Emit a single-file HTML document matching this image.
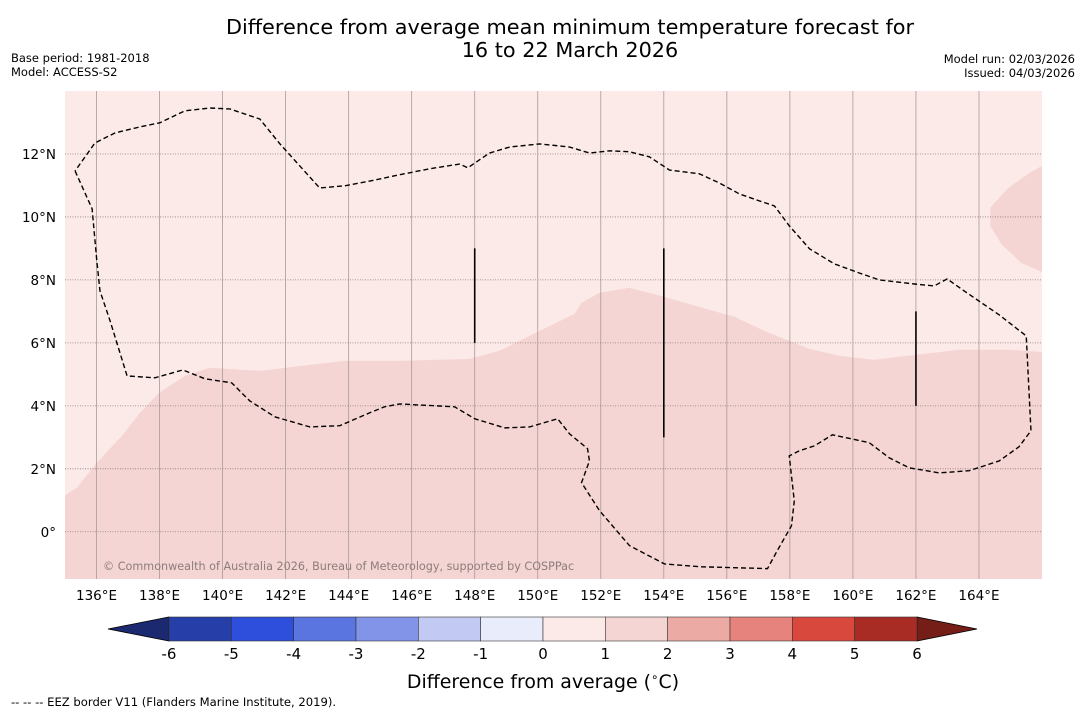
<!DOCTYPE html>
<html><head><meta charset="utf-8"><style>
body{margin:0;background:#fff;}
svg{display:block;font-family:"DejaVu Sans","Liberation Sans",sans-serif;}
</style></head><body>
<svg id="chart" width="1085" height="713" viewBox="0 0 1085 713">
<text x="570" y="34" font-size="20.8" text-anchor="middle">Difference from average mean minimum temperature forecast for</text>
<text x="570" y="57" font-size="20.8" text-anchor="middle">16 to 22 March 2026</text>
<text x="11" y="62" font-size="11.5">Base period: 1981-2018</text>
<text x="11" y="76" font-size="11.5">Model: ACCESS-S2</text>
<text x="1075" y="63" font-size="11.5" text-anchor="end">Model run: 02/03/2026</text>
<text x="1075" y="77" font-size="11.5" text-anchor="end">Issued: 04/03/2026</text>
<g id="map"></g>
<g id="cbar"></g>
<text x="543" y="688" font-size="18.9" text-anchor="middle">Difference from average (<tspan font-size="12" dy="-7">∘</tspan><tspan dy="7">C)</tspan></text>
<text x="11" y="706" font-size="11.6">--  --  -- EEZ border V11 (Flanders Marine Institute, 2019).</text>
</svg>
<script>
const NS="http://www.w3.org/2000/svg";
const lonTicks=[136,138,140,142,144,146,148,150,152,154,156,158,160,162,164];
const latTicks=[0,2,4,6,8,10,12];
const warmLon=[135,135.38,135.98,136.81,137.38,137.98,138.8,139.6,141.18,142.77,143.88,145.62,147.84,148.79,150.06,151.17,151.39,151.96,152.91,154.02,155.13,156.24,157.19,158.62,159.57,160.68,161.47,163.38,164.96,166];
const warmLat=[1.17,1.4,2.16,3.05,3.78,4.41,4.95,5.21,5.11,5.3,5.43,5.43,5.49,5.75,6.38,6.92,7.27,7.59,7.75,7.46,7.14,6.83,6.38,5.81,5.59,5.46,5.56,5.78,5.78,5.71];
const blobLon=[166,165.6,164.9,164.36,164.36,164.71,165.34,166];
const blobLat=[11.62,11.4,10.89,10.29,9.71,9.14,8.54,8.25];
const cLon=[135.32,135.86,136.01,136.11,136.43,136.97,137.85,138.74,139.44,140.29,140.86,141.66,142.77,143.72,144.67,145.14,145.62,147.36,148.0,148.95,149.74,150.63,151.01,151.58,151.64,151.39,151.96,152.91,154.02,155.13,157.29,157.6,158.05,158.14,157.98,158.3,158.78,159.35,160.52,161.15,161.79,162.74,163.69,164.64,165.27,165.65,165.5,164.64,163.53,162.99,162.58,161.95,160.84,160.2,159.41,158.62,157.98,157.51,157.03,156.4,155.76,155.13,154.18,153.54,152.91,152.28,151.64,151.01,150.06,149.11,148.47,147.78,147.52,146.57,145.62,144.67,143.88,143.08,142.45,141.82,141.18,140.23,139.6,138.8,138.01,137.38,136.59,135.95,135.32];
const cLat=[11.46,10.26,8.6,7.65,6.7,4.95,4.89,5.14,4.86,4.73,4.16,3.65,3.33,3.37,3.78,3.97,4.06,3.97,3.59,3.3,3.33,3.59,3.11,2.64,2.25,1.56,0.67,-0.44,-1.02,-1.11,-1.17,-0.6,0.19,0.98,2.41,2.57,2.73,3.08,2.83,2.35,2.03,1.87,1.94,2.25,2.7,3.21,6.22,6.89,7.65,8.03,7.81,7.87,8.0,8.22,8.51,8.99,9.72,10.35,10.51,10.73,11.08,11.37,11.49,11.91,12.07,12.1,12.03,12.22,12.32,12.22,12.03,11.56,11.68,11.53,11.34,11.14,10.99,10.92,11.62,12.32,13.11,13.43,13.46,13.37,12.99,12.86,12.67,12.35,11.46];
const eezLon=[148,154,162];
const eezLat0=[9,9,7];
const eezLat1=[6,3,4];
const cbVals=[-6,-5,-4,-3,-2,-1,0,1,2,3,4,5,6];
const cbColors=["#263fa8","#2e4fdc","#5a74e0","#8194e8","#c2c9f2","#e9ecfa","#fceae8","#f5d5d3","#ecaaa5","#e5837c","#d9483d","#a82b24"];
const LON0=135,LON1=166,LAT0=-1.5,LAT1=14;
const X0=65,X1=1042,Y0=91,Y1=579;
const px=l=>X0+(l-LON0)/(LON1-LON0)*(X1-X0);
const py=l=>Y1-(l-LAT0)/(LAT1-LAT0)*(Y1-Y0);
function mk(t,a,p){const e=document.createElementNS(NS,t);for(const k in a)e.setAttribute(k,a[k]);(p||map).appendChild(e);return e;}
const map=document.getElementById('map');
let e=mk('rect',{x:X0,y:Y0,width:X1-X0,height:Y1-Y0,fill:'#fbeae8'});


let d='M'+warmLon.map((l,i)=>px(l)+','+py(warmLat[i])).join(' L')+` L${X1},${Y1} L${X0},${Y1} Z`;
e=mk('path',{d:d,fill:'#f5d5d3'});


d='M'+blobLon.map((l,i)=>px(l)+','+py(blobLat[i])).join(' L')+' Z';
e=mk('path',{d:d,fill:'#f5d5d3'});


lonTicks.forEach(l=>{
 let g=mk('line',{x1:px(l),x2:px(l),y1:Y0,y2:Y1,stroke:'#a89a99','stroke-width':0.8});
 
 
 let t=mk('text',{x:px(l),y:600,'font-size':13.5,'text-anchor':'middle'},document.getElementById('chart'));
 t.textContent=l+'°E';
 
 
});
latTicks.forEach(l=>{
 let g=mk('line',{x1:X0,x2:X1,y1:py(l),y2:py(l),stroke:'#8a7a79','stroke-width':0.8,'stroke-dasharray':'1,1.5'});
 
 
 let t=mk('text',{x:56,y:py(l)+5,'font-size':13.5,'text-anchor':'end'},document.getElementById('chart'));
 t.textContent=l===0?'0°':l+'°N';
 
 
});
d='M'+cLon.map((l,i)=>px(l)+','+py(cLat[i])).join(' L');
e=mk('path',{d:d,fill:'none',stroke:'#000','stroke-width':1.4,'stroke-dasharray':'5,3'});


eezLon.forEach((l,i)=>{
 let g=mk('line',{x1:px(l),x2:px(l),y1:py(eezLat0[i]),y2:py(eezLat1[i]),stroke:'#000','stroke-width':1.6});
 
 
});
e=mk('text',{x:103,y:570,'font-size':11.2,fill:'#8a7d7c'});
e.textContent='© Commonwealth of Australia 2026, Bureau of Meteorology, supported by COSPPac';


const cb=document.getElementById('cbar');
const CX0=169,CX1=917,CY0=617,CY1=641;
const cx=v=>CX0+(v-cbVals[0])/(cbVals[cbVals.length-1]-cbVals[0])*(CX1-CX0);
e=mk('polygon',{points:`108,629 ${CX0},${CY0} ${CX0},${CY1}`,fill:'#1b2a70',stroke:'#000','stroke-width':0.8},cb);


e=mk('polygon',{points:`977,629 ${CX1},${CY0} ${CX1},${CY1}`,fill:'#751e18',stroke:'#000','stroke-width':0.8},cb);


cbColors.forEach((c,i)=>{
 let r=mk('rect',{x:cx(cbVals[i]),y:CY0,width:cx(cbVals[i+1])-cx(cbVals[i]),height:CY1-CY0,fill:c,stroke:'#333','stroke-width':0.6},cb);
 
 
});
cbVals.forEach(v=>{
 let t=mk('text',{x:cx(v),y:659,'font-size':15,'text-anchor':'middle'},cb);
 t.textContent=v;
 
 
});
</script>
</body></html>
